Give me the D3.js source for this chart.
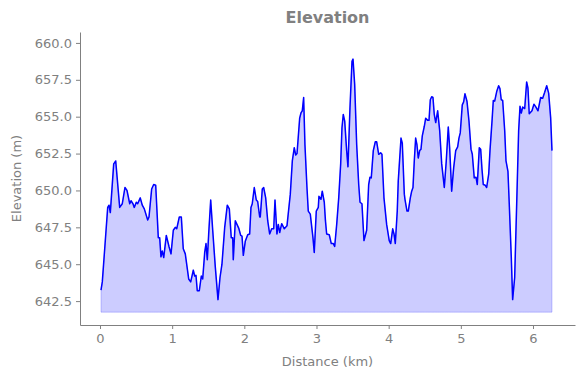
<!DOCTYPE html>
<html>
<head>
<meta charset="utf-8">
<script src="https://cdn.jsdelivr.net/npm/d3@7"></script>
<style>
body { margin: 0; background: #fff; }
svg { font-family: "DejaVu Sans", sans-serif; }
</style>
</head>
<body>
<svg></svg>
<script>
var distance = [0.014,0.032,0.107,0.125,0.143,0.190,0.218,0.273,0.309,0.346,0.374,0.412,0.430,0.457,0.475,0.503,0.522,0.558,0.586,0.614,
  0.661,0.679,0.716,0.744,0.772,0.808,0.827,0.845,0.863,0.883,0.919,0.956,0.984,1.016,1.043,1.063,1.099,1.127,1.154,1.182,
  1.229,1.257,1.293,1.312,1.330,1.348,1.376,1.404,1.423,1.451,1.469,1.487,1.506,1.534,1.562,1.598,1.635,1.663,1.690,1.728,
  1.764,1.792,1.819,1.839,1.847,1.875,1.922,1.950,1.968,1.986,2.013,2.047,2.074,2.092,2.110,2.138,2.166,2.185,2.213,2.221,
  2.249,2.268,2.296,2.324,2.351,2.379,2.407,2.425,2.452,2.471,2.490,2.518,2.554,2.591,2.637,2.665,2.692,2.712,2.730,2.767,
  2.785,2.803,2.822,2.840,2.868,2.886,2.914,2.951,2.969,2.997,3.025,3.034,3.062,3.080,3.108,3.124,3.141,3.177,3.205,3.233,
  3.252,3.280,3.308,3.335,3.353,3.371,3.391,3.418,3.436,3.464,3.492,3.506,3.529,3.557,3.585,3.603,3.630,3.658,3.695,3.723,
  3.741,3.759,3.787,3.815,3.834,3.862,3.889,3.907,3.935,3.972,4.008,4.028,4.056,4.074,4.092,4.119,4.133,4.171,4.189,4.217,
  4.226,4.254,4.272,4.300,4.319,4.337,4.355,4.374,4.392,4.410,4.430,4.448,4.466,4.494,4.513,4.541,4.559,4.577,4.596,4.614,
  4.632,4.652,4.679,4.707,4.735,4.771,4.798,4.826,4.845,4.873,4.901,4.929,4.956,4.974,4.992,5.020,5.039,5.057,5.085,5.113,
  5.141,5.159,5.186,5.210,5.228,5.256,5.275,5.293,5.311,5.339,5.358,5.386,5.404,5.432,5.450,5.469,5.497,5.524,5.542,5.560,
  5.580,5.608,5.626,5.653,5.671,5.699,5.718,5.746,5.774,5.801,5.820,5.838,5.857,5.885,5.912,5.930,5.948,5.986,6.013,6.041,
  6.069,6.106,6.134,6.162,6.190,6.217,6.245,6.263];

var elevation = [643.24,643.8,648.85,649.0,648.5,651.8,652.0,648.85,649.1,650.2,650.0,649.1,649.3,649.1,648.85,649.2,649.1,649.5,649.0,648.75,
  648.0,648.2,650.1,650.4,650.35,646.8,646.8,645.5,645.9,645.45,646.95,646.2,645.7,647.3,647.5,647.4,648.2,648.2,646.05,645.7,
  644.0,643.8,644.6,644.2,644.25,643.2,643.2,644.2,644.0,645.8,646.4,645.3,647.05,649.35,647.3,644.8,642.6,644.1,645.0,647.5,
  649.0,648.75,646.8,646.8,645.3,647.95,647.45,646.95,646.9,645.6,646.55,647.0,647.05,648.85,649.1,650.2,649.35,649.25,648.2,648.2,
  650.1,650.2,649.5,647.95,647.05,647.4,647.4,649.35,647.05,647.7,647.15,647.75,647.4,647.6,649.75,652.0,652.9,652.4,652.5,654.9,
  655.25,655.4,656.3,653.1,650.2,648.6,648.4,646.8,645.8,648.6,648.85,649.6,649.4,649.95,649.2,647.95,647.05,647.0,646.4,646.4,
  646.2,647.7,649.5,651.8,654.25,655.15,654.7,652.7,651.6,655.6,658.75,658.9,657.2,653.1,650.4,649.2,649.1,646.6,647.3,650.4,
  650.9,650.85,652.7,653.3,653.3,652.45,652.55,652.45,649.5,647.7,646.6,646.4,647.4,647.05,646.4,648.6,650.65,653.55,653.2,649.75,
  649.4,648.6,648.6,649.5,649.95,650.2,652.0,653.55,653.1,652.2,652.7,652.8,653.7,654.35,654.9,654.75,654.75,656.15,656.35,656.3,
  655.15,654.6,655.4,654.05,651.8,650.2,652.0,654.3,652.9,649.95,651.55,652.7,652.95,653.55,653.9,655.8,656.0,656.55,656.05,654.7,
  652.8,652.45,650.85,650.9,650.4,652.9,652.8,651.45,650.4,650.35,650.2,651.1,652.7,654.7,656.1,656.05,656.7,657.1,656.9,656.15,
  656.1,654.05,652.0,651.3,649.1,645.5,642.6,644.1,649.1,654.05,655.7,655.25,655.65,655.55,657.35,656.95,655.2,655.4,655.85,655.65,
  655.4,656.3,656.25,656.65,657.1,656.6,654.9,652.7];

var xTicks = [0, 1, 2, 3, 4, 5, 6];
var yTicks = [642.5, 645.0, 647.5, 650.0, 652.5, 655.0, 657.5, 660.0];

var data = distance.map(function(d, i) { return {dist: d, elev: elevation[i]}; });

var viewWidth = 584, viewHeight = 378;
var margin = {top: 32, right: 9, bottom: 53, left: 80};
var width = viewWidth - margin.left - margin.right;
var height = viewHeight - margin.top - margin.bottom;
var grey = "#808080";

var root = d3.select("svg")
    .attr("width", viewWidth)
    .attr("height", viewHeight);

var svg = root.append("g")
    .attr("transform", "translate(" + margin.left + "," + margin.top + ")");

var x = d3.scaleLinear()
    .domain([-0.277, 6.582])
    .range([0, width]);

var y = d3.scaleLinear()
    .domain([640.88, 660.74])
    .range([height, 0]);

var base = d3.min(elevation) - 0.85;

svg.append("path")
    .datum(data)
    .attr("fill", "rgba(0,0,255,0.2)")
    .attr("stroke", "rgba(0,0,255,0.2)")
    .attr("stroke-width", 1)
    .attr("d", d3.area()
        .x(function(d) { return x(d.dist); })
        .y0(y(base))
        .y1(function(d) { return y(d.elev); }));

svg.append("path")
    .datum(data)
    .attr("fill", "none")
    .attr("stroke", "#0000ff")
    .attr("stroke-width", 1.5)
    .attr("stroke-linejoin", "round")
    .attr("d", d3.line()
        .x(function(d) { return x(d.dist); })
        .y(function(d) { return y(d.elev); }));

var xAxis = svg.append("g")
    .attr("transform", "translate(0," + height + ")")
    .call(d3.axisBottom(x).tickValues(xTicks).tickFormat(d3.format("d")).tickSize(4).tickPadding(5).tickSizeOuter(0));

var yAxis = svg.append("g")
    .call(d3.axisLeft(y).tickValues(yTicks).tickFormat(d3.format(".1f")).tickSize(4).tickPadding(4).tickSizeOuter(0));

[xAxis, yAxis].forEach(function(a) {
    a.select(".domain").attr("stroke", grey);
    a.selectAll(".tick line").attr("stroke", grey);
    a.selectAll(".tick text")
        .attr("fill", grey)
        .style("font-size", "13px")
        .style("font-family", "DejaVu Sans, sans-serif");
});

svg.append("text")
    .attr("x", width / 2)
    .attr("y", -9)
    .attr("text-anchor", "middle")
    .attr("fill", grey)
    .style("font-size", "16px")
    .style("font-weight", "bold")
    .text("Elevation");

svg.append("text")
    .attr("x", width / 2)
    .attr("y", height + 41)
    .attr("text-anchor", "middle")
    .attr("fill", grey)
    .style("font-size", "13px")
    .text("Distance (km)");

svg.append("text")
    .attr("transform", "rotate(-90)")
    .attr("x", -height / 2)
    .attr("y", -59)
    .attr("text-anchor", "middle")
    .attr("fill", grey)
    .style("font-size", "13px")
    .text("Elevation (m)");
</script>
</body>
</html>
